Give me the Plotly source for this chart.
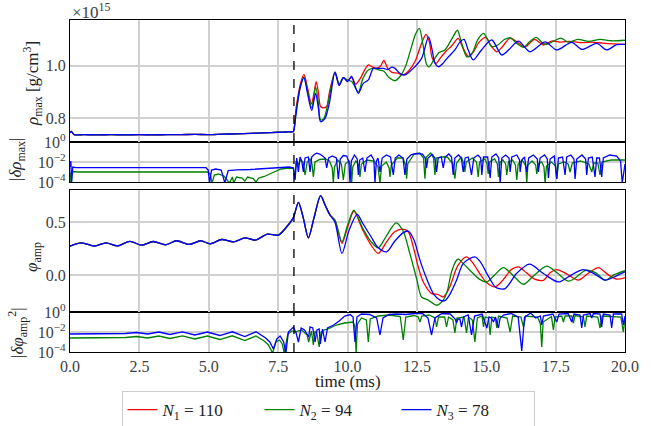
import plotly.graph_objects as go

# ---------------- data ----------------
pre_t = [0.0, 0.05, 0.15, 0.5, 1.0, 1.5, 2.0, 2.5, 3.0, 3.5, 4.0, 4.5, 5.0, 5.5, 6.0, 6.5, 7.0, 7.5, 7.8, 8.0]
rho_pre = [0.745, 0.750, 0.738, 0.738, 0.737, 0.738, 0.737, 0.738, 0.737, 0.738, 0.738, 0.739, 0.738, 0.740, 0.741, 0.743, 0.745, 0.747, 0.748, 0.749]

rho_N1_t = [8.05, 8.15, 8.3, 8.43, 8.55, 8.7, 8.8, 8.87, 8.95, 9.03, 9.15, 9.25, 9.35, 9.55, 9.7, 9.85, 10.0, 10.15, 10.3, 10.45, 10.75, 10.9, 11.05, 11.2, 11.31, 11.45, 11.6, 11.8, 12.0, 12.2, 12.45, 12.65, 12.83, 12.95, 13.05, 13.19, 13.35, 13.55, 13.75, 13.99, 14.15, 14.37, 14.55, 14.75, 14.98, 15.15, 15.38, 15.6, 15.86, 16.05, 16.4, 16.74, 17.06, 17.36, 17.7, 18.0, 18.4, 18.8, 19.2, 19.6, 20.0]
rho_N1 = [0.75, 0.84, 0.93, 0.967, 0.92, 0.855, 0.9, 0.94, 0.9, 0.845, 0.84, 0.845, 0.9, 0.975, 0.925, 0.955, 0.945, 0.955, 0.93, 0.95, 1.003, 0.995, 0.99, 1.0, 1.02, 0.99, 0.975, 0.972, 0.965, 0.98, 1.02, 1.08, 1.119, 1.09, 1.03, 1.009, 1.03, 1.055, 1.075, 1.104, 1.07, 1.034, 1.055, 1.091, 1.108, 1.08, 1.053, 1.075, 1.106, 1.095, 1.072, 1.1, 1.079, 1.094, 1.09, 1.093, 1.088, 1.09, 1.086, 1.083, 1.081]

rho_N2_t = [8.05, 8.15, 8.3, 8.43, 8.55, 8.71, 8.85, 8.95, 9.03, 9.15, 9.3, 9.55, 9.7, 9.85, 10.0, 10.15, 10.39, 10.55, 10.75, 10.95, 11.1, 11.3, 11.5, 11.71, 11.9, 12.1, 12.3, 12.45, 12.59, 12.72, 12.85, 12.94, 13.1, 13.3, 13.51, 13.75, 13.96, 14.1, 14.3, 14.5, 14.7, 14.9, 15.05, 15.2, 15.43, 15.65, 15.86, 16.1, 16.35, 16.55, 16.8, 17.05, 17.2, 17.45, 17.69, 17.95, 18.3, 18.7, 19.1, 19.5, 20.0]
rho_N2 = [0.75, 0.83, 0.92, 0.958, 0.91, 0.84, 0.92, 0.86, 0.794, 0.8, 0.86, 0.977, 0.93, 0.955, 0.945, 0.94, 0.9, 0.95, 0.984, 0.99, 0.985, 0.98, 0.955, 0.943, 0.96, 1.0, 1.07, 1.12, 1.142, 1.08, 1.005, 0.996, 1.02, 1.05, 1.06, 1.1, 1.135, 1.09, 1.034, 1.05, 1.1, 1.123, 1.1, 1.072, 1.08, 1.1, 1.106, 1.085, 1.07, 1.09, 1.108, 1.085, 1.082, 1.095, 1.105, 1.09, 1.1, 1.093, 1.1, 1.095, 1.097]

rho_N3_t = [8.05, 8.15, 8.3, 8.43, 8.55, 8.71, 8.85, 8.95, 9.03, 9.19, 9.35, 9.55, 9.7, 9.85, 10.0, 10.15, 10.25, 10.39, 10.57, 10.75, 10.93, 11.1, 11.31, 11.45, 11.6, 11.71, 11.89, 12.07, 12.37, 12.67, 12.92, 13.05, 13.15, 13.28, 13.45, 13.6, 13.87, 14.05, 14.2, 14.35, 14.53, 14.83, 15.2, 15.56, 15.85, 16.16, 16.58, 17.12, 17.54, 18.08, 18.46, 18.98, 19.34, 19.7, 20.0]
rho_N3 = [0.75, 0.82, 0.92, 0.955, 0.9, 0.83, 0.895, 0.84, 0.787, 0.8, 0.86, 0.975, 0.925, 0.955, 0.94, 0.96, 0.93, 0.895, 0.933, 0.946, 0.99, 0.99, 0.99, 0.985, 0.995, 0.99, 0.971, 0.965, 0.99, 1.028, 1.11, 1.06, 1.01, 0.996, 1.01, 1.03, 1.06, 1.09, 1.1, 1.06, 1.022, 1.06, 1.098, 1.041, 1.065, 1.094, 1.053, 1.091, 1.06, 1.089, 1.062, 1.085, 1.06, 1.08, 1.081]

phi_pre_t = [0.0, 0.42, 0.88, 1.30, 1.71, 2.16, 2.58, 3.0, 3.45, 3.84, 4.29, 4.71, 5.05, 5.47, 5.89, 6.31, 6.67, 7.12, 7.51, 7.81, 8.05]
phi_pre = [0.274, 0.305, 0.274, 0.305, 0.276, 0.32, 0.283, 0.318, 0.287, 0.325, 0.29, 0.325, 0.296, 0.337, 0.315, 0.353, 0.331, 0.388, 0.379, 0.458, 0.545]

phi_N1_t = [8.23, 8.4, 8.59, 8.8, 9.03, 9.2, 9.37, 9.55, 9.8, 10.0, 10.23, 10.55, 10.85, 11.11, 11.41, 11.7, 11.99, 12.19, 12.37, 12.55, 12.73, 13.04, 13.25, 13.45, 13.66, 13.98, 14.29, 14.5, 14.8, 15.0, 15.32, 15.6, 15.9, 16.16, 16.45, 16.75, 17.06, 17.3, 17.54, 17.9, 18.32, 18.7, 19.04, 19.4, 19.7, 20.0]
phi_N1 = [0.691, 0.55, 0.353, 0.55, 0.754, 0.66, 0.57, 0.52, 0.30, 0.45, 0.608, 0.427, 0.283, 0.204, 0.315, 0.41, 0.436, 0.41, 0.267, 0.076, -0.067, -0.178, -0.185, -0.21, -0.13, 0.09, 0.172, 0.12, 0.0, -0.07, -0.114, -0.05, 0.05, 0.076, 0.02, -0.04, -0.051, 0.02, 0.051, 0.01, -0.05, 0.02, 0.07, 0.0, -0.04, -0.025]

phi_N2_t = [8.23, 8.4, 8.59, 8.8, 9.03, 9.2, 9.37, 9.55, 9.8, 10.0, 10.23, 10.55, 10.85, 11.11, 11.4, 11.75, 12.0, 12.25, 12.49, 12.67, 12.91, 13.21, 13.45, 13.6, 13.75, 13.93, 14.0, 14.2, 14.5, 14.75, 15.02, 15.3, 15.62, 15.95, 16.34, 16.7, 17.18, 17.55, 17.96, 18.2, 18.6, 18.95, 19.28, 19.6, 20.0]
phi_N2 = [0.691, 0.55, 0.353, 0.55, 0.754, 0.66, 0.57, 0.52, 0.315, 0.47, 0.617, 0.443, 0.315, 0.258, 0.37, 0.496, 0.42, 0.2, -0.035, -0.21, -0.24, -0.289, -0.24, -0.15, 0.03, 0.14, 0.15, 0.1, 0.02, -0.04, -0.067, 0.0, 0.07, 0.0, -0.089, -0.01, 0.083, 0.02, -0.06, -0.03, 0.045, 0.02, -0.05, 0.0, 0.04]

phi_N3_t = [8.23, 8.4, 8.59, 8.8, 9.03, 9.2, 9.37, 9.55, 9.8, 10.05, 10.35, 10.55, 10.85, 11.1, 11.41, 11.7, 12.0, 12.19, 12.4, 12.6, 12.85, 13.1, 13.33, 13.51, 13.7, 13.93, 14.17, 14.59, 14.8, 15.05, 15.35, 15.68, 16.09, 16.56, 17.06, 17.6, 17.95, 18.2, 18.5, 18.9, 19.28, 19.6, 20.0]
phi_N3 = [0.691, 0.55, 0.353, 0.55, 0.754, 0.66, 0.57, 0.5, 0.204, 0.42, 0.576, 0.49, 0.363, 0.26, 0.22, 0.32, 0.40, 0.417, 0.33, 0.15, -0.035, -0.18, -0.24, -0.245, -0.18, -0.05, 0.108, 0.172, 0.12, 0.0, -0.12, -0.13, 0.013, 0.102, 0.013, -0.067, -0.02, 0.02, 0.05, 0.01, -0.05, -0.02, 0.03]

# relative differences |delta rho_max| (log10 of value)
drho_N2_t = [0.0, 0.03, 0.07, 0.3, 2.0, 4.95, 5.05, 5.12, 5.2, 5.35, 5.55, 5.75, 5.85, 5.9, 6.0, 6.2, 6.3, 6.4, 6.6, 6.7, 6.8, 7.0, 7.2, 7.4, 7.6, 7.8, 8.0,
             8.05, 8.1, 8.15, 8.23, 8.3, 8.4, 8.47, 8.55, 8.65, 8.72, 8.77, 8.83, 9.0, 9.2, 9.35, 9.45, 9.49, 9.53, 9.65, 9.78, 9.85, 9.92, 10.05, 10.12, 10.15, 10.19, 10.3, 10.4, 10.45, 10.5, 10.7, 10.95, 11.1, 11.17, 11.23, 11.4, 11.5, 11.53, 11.58, 11.8, 12.0, 12.1, 12.13, 12.17, 12.4, 12.6, 12.74, 12.79, 12.84, 13.0, 13.1, 13.15, 13.2, 13.4, 13.6, 13.8, 13.87, 13.93, 14.1, 14.2, 14.23, 14.28, 14.5, 14.65, 14.71, 14.76, 14.95, 15.03, 15.07, 15.12, 15.3, 15.4, 15.44, 15.5, 15.6, 15.7, 15.74, 15.8, 15.95, 16.05, 16.1, 16.15, 16.3, 16.42, 16.46, 16.5, 16.65, 16.78, 16.82, 16.87, 17.0, 17.08, 17.12, 17.17, 17.35, 17.5, 17.54, 17.6, 17.8, 17.95, 18.02, 18.1, 18.4, 18.7, 18.8, 18.88, 19.02, 19.1, 19.17, 19.5, 20.0]
drho_N2_exp = [-3.0, -4.1, -2.95, -3.0, -3.0, -3.0, -3.2, -4.1, -3.3, -3.2, -3.4, -4.1, -3.5, -4.1, -3.5, -3.6, -3.9, -3.5, -3.65, -4.0, -3.6, -3.45, -3.2, -2.95, -2.7, -2.63, -2.6,
               -2.6, -3.7, -1.9, -2.3, -1.8, -2.0, -3.3, -2.0, -1.7, -2.2, -3.5, -2.0, -1.75, -1.7, -1.9, -2.6, -4.1, -2.5, -1.8, -2.2, -3.8, -2.2, -1.9, -2.6, -4.1, -2.5, -1.9, -2.3, -3.5, -2.2, -1.8, -1.9, -2.5, -4.1, -2.4, -2.0, -2.6, -3.5, -2.3, -1.6, -1.6, -2.4, -3.66, -2.2, -1.2, -1.1, -1.6, -3.66, -1.5, -1.1, -1.6, -3.3, -1.6, -1.5, -1.5, -2.2, -3.66, -2.1, -1.5, -2.2, -3.0, -2.0, -1.6, -2.0, -3.5, -2.0, -1.7, -2.2, -3.2, -2.0, -1.7, -2.2, -3.5, -2.0, -1.8, -2.2, -3.3, -2.0, -1.8, -2.3, -3.8, -2.2, -1.8, -2.4, -4.1, -2.3, -1.9, -2.3, -3.2, -2.2, -2.0, -2.5, -4.1, -2.4, -2.0, -2.4, -3.66, -2.2, -2.0, -2.2, -3.0, -2.1, -1.9, -2.2, -3.0, -2.1, -2.1, -3.3, -2.0, -1.8, -1.8]

drho_N3_t = [0.0, 0.03, 0.06, 0.1, 0.2, 1.0, 2.0, 3.0, 4.0, 4.9, 4.98, 5.03, 5.1, 5.25, 5.45, 5.58, 5.7, 6.0, 6.5, 7.0, 7.5, 7.9,
             8.05, 8.11, 8.17, 8.23, 8.29, 8.35, 8.41, 8.47, 8.59, 8.65, 8.71, 8.8, 8.89, 9.0, 9.1, 9.19, 9.25, 9.32, 9.45, 9.6, 9.67, 9.74, 9.85, 9.97, 10.05, 10.09, 10.14, 10.25, 10.35, 10.39, 10.44, 10.55, 10.63, 10.7, 10.85, 10.95, 10.99, 11.04, 11.1, 11.17, 11.25, 11.4, 11.55, 11.65, 11.72, 11.85, 12.0, 12.07, 12.14, 12.3, 12.5, 12.7, 12.8, 12.85, 12.9, 13.05, 13.15, 13.21, 13.27, 13.38, 13.45, 13.52, 13.65, 13.75, 13.81, 13.87, 14.0, 14.1, 14.17, 14.24, 14.35, 14.47, 14.55, 14.7, 14.8, 14.84, 14.9, 15.05, 15.14, 15.2, 15.35, 15.45, 15.5, 15.56, 15.7, 15.82, 15.86, 15.92, 16.1, 16.2, 16.22, 16.28, 16.38, 16.46, 16.53, 16.7, 16.84, 16.88, 16.94, 17.1, 17.2, 17.24, 17.3, 17.45, 17.54, 17.6, 17.75, 17.84, 17.9, 18.05, 18.16, 18.2, 18.26, 18.45, 18.58, 18.62, 18.68, 18.82, 18.92, 18.98, 19.08, 19.16, 19.22, 19.45, 19.7, 19.84, 19.9, 19.95, 20.0]
drho_N3_exp = [-2.5, -1.9, -4.1, -2.5, -2.57, -2.57, -2.56, -2.57, -2.57, -2.57, -2.8, -4.1, -2.8, -2.7, -2.8, -4.1, -2.85, -2.78, -2.75, -2.65, -2.55, -2.5,
               -2.6, -3.8, -1.6, -3.0, -1.5, -1.9, -3.0, -1.6, -1.5, -3.0, -1.5, -1.25, -1.12, -1.2, -1.4, -1.6, -2.6, -1.6, -1.4, -1.6, -3.7, -1.7, -1.35, -1.4, -2.0, -4.1, -1.9, -1.3, -1.7, -3.3, -1.8, -1.6, -3.0, -1.6, -1.3, -1.8, -4.1, -1.9, -1.6, -3.0, -1.6, -1.3, -1.5, -3.3, -1.6, -1.3, -1.6, -3.3, -1.7, -1.25, -1.15, -1.2, -1.6, -2.6, -1.6, -1.25, -1.6, -3.0, -1.6, -1.5, -2.6, -1.5, -1.2, -1.5, -3.3, -1.6, -1.3, -1.6, -3.0, -1.6, -1.5, -3.3, -1.6, -1.3, -1.6, -3.3, -1.5, -1.5, -3.6, -1.5, -1.2, -1.6, -4.1, -1.6, -1.3, -1.6, -3.0, -1.5, -1.3, -1.8, -3.0, -1.8, -1.5, -3.0, -1.6, -1.3, -1.7, -3.0, -1.6, -1.3, -1.7, -3.6, -1.7, -1.4, -3.7, -1.6, -1.5, -3.3, -1.5, -1.3, -1.7, -3.7, -1.7, -1.3, -1.7, -3.3, -1.6, -1.5, -3.5, -1.6, -1.6, -3.5, -1.6, -1.3, -1.4, -1.9, -4.1, -3.0, -2.2]

# relative differences |delta phi_amp^2| (log10 of value)
dphi_N2_t = [0.0, 0.5, 1.0, 1.5, 2.0, 2.4, 2.8, 3.2, 3.6, 4.05, 4.5, 4.95, 5.4, 5.85, 6.3, 6.7, 7.0, 7.15, 7.3, 7.42, 7.55, 7.65, 7.72, 7.85, 8.0, 8.1, 8.2, 8.35, 8.55, 8.6, 8.7, 8.77, 8.83, 8.9, 8.98, 9.05, 9.15, 9.3, 9.6, 9.9, 10.2, 10.27, 10.31, 10.36, 10.5, 10.68, 10.75, 10.82, 11.1, 11.5, 11.9, 12.01, 12.1, 12.4, 12.55, 12.61, 12.68, 12.95, 13.15, 13.21, 13.28, 13.5, 13.57, 13.64, 13.8, 13.87, 13.94, 14.2, 14.29, 14.36, 14.5, 14.59, 14.68, 14.85, 14.9, 14.96, 15.08, 15.14, 15.2, 15.33, 15.38, 15.44, 15.75, 15.86, 15.95, 16.25, 16.34, 16.42, 16.85, 16.95, 17.0, 17.05, 17.35, 17.42, 17.48, 17.72, 17.78, 17.84, 18.08, 18.14, 18.2, 18.5, 18.56, 18.62, 19.02, 19.1, 19.18, 19.85, 19.94, 20.0]
dphi_N2_exp = [-2.6, -2.58, -2.6, -2.57, -2.55, -2.45, -2.6, -2.4, -2.65, -2.38, -2.7, -2.4, -2.75, -2.38, -2.85, -2.4, -2.9, -3.3, -4.1, -3.0, -2.8, -3.2, -4.1, -2.2, -1.9, -2.0, -1.9, -1.8, -2.3, -3.0, -1.9, -3.3, -1.9, -2.2, -3.5, -2.0, -1.8, -1.7, -1.3, -1.1, -1.0, -1.5, -4.1, -1.2, -0.6, -0.8, -3.0, -0.7, -0.4, -0.3, -0.45, -2.8, -0.5, -0.35, -0.5, -1.0, -0.4, -0.3, -0.6, -1.5, -0.5, -0.5, -1.5, -0.5, -0.8, -2.1, -0.6, -0.5, -2.1, -0.5, -0.8, -3.0, -0.6, -0.4, -1.5, -0.5, -0.6, -2.3, -0.5, -0.6, -1.6, -0.4, -0.6, -2.0, -0.4, -0.5, -1.5, -0.4, -0.5, -1.2, -3.5, -1.0, -0.45, -1.8, -0.5, -0.4, -1.0, -0.4, -0.4, -1.1, -0.35, -0.5, -1.5, -0.4, -0.5, -1.6, -0.4, -0.5, -2.0, -0.6]

dphi_N3_t = [0.0, 0.5, 1.0, 1.5, 2.0, 2.4, 2.8, 3.2, 3.6, 4.05, 4.5, 4.95, 5.4, 5.85, 6.3, 6.7, 7.05, 7.2, 7.33, 7.45, 7.57, 7.7, 7.78, 7.87, 8.05, 8.15, 8.23, 8.33, 8.45, 8.6, 8.65, 8.75, 8.83, 8.9, 8.98, 9.02, 9.1, 9.19, 9.28, 9.5, 9.7, 9.9, 10.1, 10.2, 10.27, 10.34, 10.5, 10.8, 11.05, 11.17, 11.28, 11.5, 11.8, 12.1, 12.4, 12.7, 12.9, 13.03, 13.15, 13.4, 13.7, 13.88, 13.93, 13.98, 14.05, 14.11, 14.18, 14.35, 14.47, 14.58, 14.85, 15.02, 15.1, 15.18, 15.26, 15.33, 15.44, 15.5, 15.62, 15.9, 16.15, 16.28, 16.38, 16.6, 16.7, 16.78, 16.95, 17.0, 17.06, 17.4, 17.54, 17.62, 17.95, 18.08, 18.16, 18.38, 18.44, 18.5, 18.74, 18.8, 18.86, 19.1, 19.16, 19.22, 19.46, 19.52, 19.58, 19.88, 19.94, 20.0]
dphi_N3_exp = [-2.2, -2.18, -2.2, -2.17, -2.15, -2.05, -2.2, -2.0, -2.25, -1.98, -2.3, -2.0, -2.35, -1.98, -2.45, -1.98, -2.6, -3.0, -3.7, -2.7, -2.4, -3.0, -4.1, -2.0, -1.5, -2.1, -3.0, -1.6, -1.8, -2.5, -1.5, -1.6, -3.0, -1.8, -1.7, -3.2, -1.7, -3.0, -1.6, -1.3, -0.9, -0.4, -0.25, -0.5, -3.0, -0.5, -0.2, -0.25, -0.6, -2.3, -0.6, -0.25, -0.2, -0.25, -0.15, -0.15, -0.6, -2.3, -0.6, -0.15, -0.2, -0.7, -1.1, -0.7, -0.7, -1.5, -0.5, -0.3, -2.3, -0.4, -0.2, -1.6, -0.5, -0.6, -1.0, -0.5, -1.6, -0.6, -0.3, -0.15, -0.5, -3.9, -0.5, -0.1, -0.4, -0.6, -0.4, -1.3, -0.4, -0.2, -1.0, -0.2, -0.15, -1.0, -0.2, -0.3, -1.6, -0.3, -0.15, -0.6, -0.15, -0.2, -1.5, -0.2, -0.3, -1.6, -0.2, -0.2, -1.3, -0.4]

t_merger = 8.07
names = ["<i>N</i><sub>1</sub> = 110", "<i>N</i><sub>2</sub> = 94", "<i>N</i><sub>3</sub> = 78"]
colors = ["#ff0000", "#008000", "#0000ff"]

# ---------------- figure ----------------
FONT = "'Liberation Serif', 'Times New Roman', serif"
fig = go.Figure()
LW = 1.3

rho_sets = [(rho_N1_t, rho_N1), (rho_N2_t, rho_N2), (rho_N3_t, rho_N3)]
phi_sets = [(phi_N1_t, phi_N1), (phi_N2_t, phi_N2), (phi_N3_t, phi_N3)]
for i, (tt, vv) in enumerate(rho_sets):
    fig.add_trace(go.Scatter(x=pre_t + tt, y=rho_pre + vv, mode="lines", name=names[i],
                             line=dict(color=colors[i], width=LW, shape="spline", smoothing=0.8),
                             xaxis="x4", yaxis="y4", showlegend=True, legendrank=i))
for i, (tt, vv) in enumerate(phi_sets):
    fig.add_trace(go.Scatter(x=phi_pre_t + tt, y=phi_pre + vv, mode="lines",
                             line=dict(color=colors[i], width=LW, shape="spline", smoothing=0.8),
                             xaxis="x2", yaxis="y2", showlegend=False))
for i, (tt, ee) in enumerate([(drho_N2_t, drho_N2_exp), (drho_N3_t, drho_N3_exp)]):
    fig.add_trace(go.Scatter(x=tt, y=[10 ** e for e in ee], mode="lines",
                             line=dict(color=colors[i + 1], width=LW),
                             xaxis="x3", yaxis="y3", showlegend=False))
for i, (tt, ee) in enumerate([(dphi_N2_t, dphi_N2_exp), (dphi_N3_t, dphi_N3_exp)]):
    fig.add_trace(go.Scatter(x=tt, y=[10 ** e for e in ee], mode="lines",
                             line=dict(color=colors[i + 1], width=LW),
                             xaxis="x", yaxis="y", showlegend=False))

H = 332.0
dom = {"y": [0, 40 / H], "y2": [40 / H, 162 / H], "y3": [170 / H, 210 / H], "y4": [210 / H, 1]}
tickfont = dict(family=FONT, size=16, color="#404040")
grid = dict(showgrid=True, gridcolor="#d0d0d0", gridwidth=1.5, showline=True, linecolor="black",
            linewidth=1.3, mirror=True, ticks="", zeroline=False)
xt = [0, 2.5, 5, 7.5, 10, 12.5, 15, 17.5, 20]
for k, ax in enumerate(["xaxis", "xaxis2", "xaxis3", "xaxis4"]):
    yname = "y" if k == 0 else "y%d" % (k + 1)
    d = dict(grid, range=[0, 20], tickvals=xt, anchor=yname, domain=[0, 1],
             tickfont=tickfont, showticklabels=(k == 0))
    if k == 0:
        d["ticktext"] = ["%.1f" % v for v in xt]
    else:
        d["matches"] = "x"
    fig.layout[ax] = d

logtext = ["10<sup>0</sup>", "10<sup>\u22122</sup>", "10<sup>\u22124</sup>"]
fig.layout.yaxis = dict(grid, type="log", range=[-4, 0], domain=dom["y"], anchor="x",
                        tickvals=[1, 1e-2, 1e-4], ticktext=logtext, tickfont=tickfont)
fig.layout.yaxis3 = dict(grid, type="log", range=[-4, 0], domain=dom["y3"], anchor="x3",
                         tickvals=[1, 1e-2, 1e-4], ticktext=logtext, tickfont=tickfont)
fig.layout.yaxis2 = dict(grid, range=[-0.353, 0.808], domain=dom["y2"], anchor="x2",
                         tickvals=[0.0, 0.5], ticktext=["0.0", "0.5"], tickfont=tickfont)
fig.layout.yaxis4 = dict(grid, range=[0.71, 1.174], domain=dom["y4"], anchor="x4",
                         tickvals=[0.8, 1.0], ticktext=["0.8", "1.0"], tickfont=tickfont)

shapes = []
for xr, yr in [("x", "y"), ("x2", "y2"), ("x3", "y3"), ("x4", "y4")]:
    shapes.append(dict(type="line", xref=xr, yref=yr + " domain", x0=t_merger, x1=t_merger, y0=0, y1=1,
                       line=dict(color="black", width=1.3, dash="dash")))
fig.layout.shapes = shapes

def px(x):
    return (x - 70) / 555.0

def py(y):
    return (352 - y) / H

lab = dict(family=FONT, size=17, color="#222222")
P = dict(xref="paper", yref="paper", showarrow=False, xanchor="center", yanchor="middle")
ann = [
    dict(P, text="\u00d710<sup>15</sup>", x=px(70), y=py(11), xanchor="left",
         font=dict(family=FONT, size=17, color="#404040")),
    dict(P, text="<i>\u03c1</i><sub>max</sub> [g/cm<sup>3</sup>]", x=px(33), y=py(84), textangle=-90, font=lab),
    dict(P, text="|<i>\u03b4\u03c1</i><sub>max</sub>|", x=px(17), y=py(160), textangle=-90, font=lab),
    dict(P, text="<i>\u03c6</i><sub>amp</sub>", x=px(33), y=py(257), textangle=-90, font=lab),
    dict(P, text="|<i>\u03b4\u03c6</i><sub>amp</sub><sup>2</sup>|", x=px(17), y=py(333), textangle=-90, font=lab),
    dict(P, text="time (ms)", x=px(348), y=py(381), font=lab),
]
fig.layout.annotations = ann

fig.update_layout(
    width=667, height=426,
    margin=dict(l=70, r=42, t=20, b=74, autoexpand=False),
    paper_bgcolor="white", plot_bgcolor="white",
    font=dict(family=FONT),
    legend=dict(orientation="h", x=px(328), xanchor="center", y=py(391), yanchor="top",
                bordercolor="#cccccc", borderwidth=1, bgcolor="white",
                font=dict(family=FONT, size=17, color="#222222"),
                entrywidth=92, itemwidth=30, tracegroupgap=0),
)

fig.write_html("out.html", config={"displayModeBar": False},
               post_script="document.body.style.margin='0';")
